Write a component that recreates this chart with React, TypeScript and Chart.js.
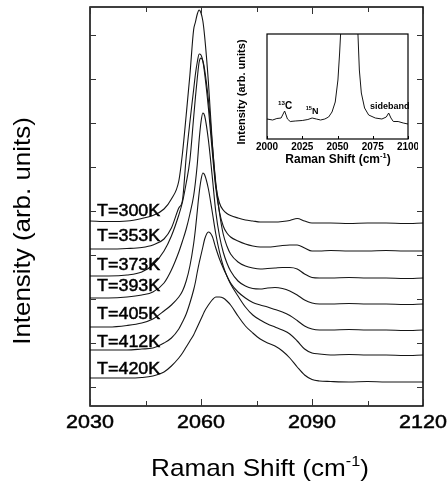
import React, { useEffect, useRef } from "react";
import { Chart, registerables } from "chart.js";

Chart.register(...registerables);

// ---------- data: main panel ----------
const ramanShift = [
  2030, 2035, 2040, 2044, 2047, 2050, 2052, 2054, 2055, 2056,
  2057, 2058, 2058.5, 2059, 2059.5, 2060, 2060.5, 2061, 2062, 2063,
  2064, 2065, 2066, 2067, 2068, 2070, 2072, 2074, 2076, 2078,
  2080, 2082, 2084, 2086, 2088, 2090, 2092, 2095, 2100, 2105,
  2110, 2115, 2120,
];

const temperatureLabels = ["T=300K", "T=353K", "T=373K", "T=393K", "T=405K", "T=412K", "T=420K"];

const i300K = [
  185, 184.5, 185, 187.5, 190.5, 197, 207, 225, 253, 291,
  331, 376, 384, 392, 396, 393, 385, 369, 324, 266,
  221, 203, 196, 192.5, 190.5, 188, 186, 185, 184, 184,
  184, 184.5, 185.5, 187.5, 185, 183, 183, 183, 182.5, 183,
  183, 182.5, 183,
];
const i353K = [
  157, 157, 157.5, 158.5, 161, 167, 178, 198, 206, 249,
  284, 316, 332, 344, 352, 351, 345, 332, 298, 256,
  218, 194, 180, 173, 169, 165, 162, 160, 159, 159,
  159.5, 160.5, 161, 161, 158, 155, 155, 155.5, 155, 155,
  155.5, 155, 155,
];
const i373K = [
  130, 130, 131, 134, 141, 155, 170, 191, 204, 223,
  246, 288, 309, 328, 344, 348, 345, 336, 306, 264,
  223, 193, 172, 160, 152, 144, 140, 138, 137, 137.5,
  138, 138.5, 138.5, 137, 132, 128.5, 128, 128, 128.5, 128,
  128, 127.5, 128,
];
const i393K = [
  108, 108, 109, 111, 114, 123, 136, 154, 165, 177,
  192, 210, 224, 242, 266, 284, 293, 290, 266, 231,
  194, 170, 154, 143, 135, 125, 120, 117.5, 117, 118,
  118.5, 117.5, 115, 111, 106, 103, 102, 102, 102.5, 102,
  102, 101.5, 102,
];
const i405K = [
  79, 79, 80.5, 83, 87, 95, 101, 109, 115, 125,
  140, 162, 177, 195, 213, 226, 233, 231, 217, 195,
  172, 154, 140, 130, 123, 114, 108, 103.5, 101, 99,
  96.5, 94, 90.5, 85.5, 80, 77, 76, 76, 76.5, 76,
  76, 75.5, 76,
];
const i412K = [
  56, 56, 56, 57, 58, 63, 68, 77, 84, 92,
  103, 116, 124, 134, 143, 151, 159, 167, 174, 170,
  158, 147, 138, 130, 122, 110, 99, 91, 86, 82,
  79, 76, 72, 65, 57, 53, 52, 51, 51.5, 51,
  51, 50.5, 51,
];
const i420K = [
  28, 28, 28, 28.5, 30, 34, 40, 48, 53, 59,
  65, 71, 75, 79, 83, 87, 91, 95, 101, 106,
  109, 109, 108, 105, 101, 90, 80, 73, 67, 63,
  60, 55, 48, 39, 31, 26.5, 25, 24.5, 24, 24.5,
  24, 24, 24,
];
const mainSeries = [i300K, i353K, i373K, i393K, i405K, i412K, i420K];
const labelAnchorY = [196, 171, 142, 121, 93, 65, 38];

const mainTickLabels = [2030, 2060, 2090, 2120];
const mainYTicks = [19, 63, 107, 151, 195, 239, 283, 327, 371];

// ---------- data: inset ----------
const insetShift = [
  2000, 2004, 2007, 2010, 2012.5, 2014.5, 2016.5, 2020, 2025, 2029,
  2032, 2035, 2038, 2041, 2043.7, 2046.1, 2048.4, 2050.3, 2051.5, 2052.2,
  2058, 2064.5, 2065.5, 2066.9, 2069.2, 2072.1, 2076.8, 2081.5, 2084.6, 2086.3,
  2087.9, 2089.6, 2093, 2096.6, 2100,
];
const insetIntensity = [
  20, 19, 20.5, 21, 28, 20, 17.5, 18, 18.5, 19.5,
  21, 20, 19, 20, 22, 27, 37, 59, 86, 105,
  400, 105, 69, 46, 31, 24, 21, 20, 22, 26,
  21, 17.5, 17.5, 16, 15,
];
const insetTickLabels = [2000, 2025, 2050, 2075, 2100];

const FONT = "'Liberation Sans', Arial, Helvetica, sans-serif";

type Run = { t: string; sup?: boolean };

function drawRuns(
  ctx: CanvasRenderingContext2D,
  runs: Run[],
  x: number,
  y: number,
  size: number,
  weight: string,
  sx: number,
  rotate = 0,
  heavy = 0
) {
  ctx.save();
  ctx.translate(x, y);
  if (rotate) ctx.rotate(rotate);
  ctx.scale(sx, 1);
  ctx.fillStyle = "#000";
  ctx.strokeStyle = "#000";
  ctx.lineWidth = heavy;
  ctx.textBaseline = "alphabetic";
  ctx.textAlign = "left";
  const widths = runs.map((r) => {
    ctx.font = `${weight} ${r.sup ? size * 0.62 : size}px ${FONT}`;
    return ctx.measureText(r.t).width;
  });
  const total = widths.reduce((a, b) => a + b, 0);
  let cx = -total / 2;
  runs.forEach((r, i) => {
    ctx.font = `${weight} ${r.sup ? size * 0.62 : size}px ${FONT}`;
    const yy = r.sup ? -size * 0.42 : 0;
    ctx.fillText(r.t, cx, yy);
    if (heavy > 0) ctx.strokeText(r.t, cx, yy);
    cx += widths[i];
  });
  ctx.restore();
}

const mainDeco = {
  id: "mainDeco",
  afterDraw(chart: any) {
    const { ctx, chartArea: a, scales } = chart;
    const xs = scales.x;
    const ys = scales.y;
    ctx.save();
    ctx.strokeStyle = "#000";
    ctx.lineWidth = 1.5;
    ctx.strokeRect(a.left, a.top, a.right - a.left, a.bottom - a.top);
    ctx.lineWidth = 1;
    ctx.strokeStyle = "#333";
    ctx.beginPath();
    for (let v = 2030; v <= 2120; v += 15) {
      const px = Math.round(xs.getPixelForValue(v)) + 0.5;
      const len = (v - 2030) % 30 === 0 ? 7 : 5;
      ctx.moveTo(px, a.bottom);
      ctx.lineTo(px, a.bottom - len);
      ctx.moveTo(px, a.top);
      ctx.lineTo(px, a.top + len);
    }
    mainYTicks.forEach((v) => {
      const py = Math.round(ys.getPixelForValue(v)) + 0.5;
      ctx.moveTo(a.left, py);
      ctx.lineTo(a.left + 6, py);
      ctx.moveTo(a.right, py);
      ctx.lineTo(a.right - 6, py);
    });
    ctx.stroke();
    ctx.restore();

    mainTickLabels.forEach((v) => {
      drawRuns(ctx, [{ t: String(v) }], xs.getPixelForValue(v), 428, 19, "normal", 1.13, 0, 0.5);
    });
    temperatureLabels.forEach((t, i) => {
      ctx.save();
      ctx.translate(xs.getPixelForValue(2031.9), ys.getPixelForValue(labelAnchorY[i]) + 5.7);
      ctx.scale(1.12, 1);
      ctx.font = `normal 16px ${FONT}`;
      ctx.fillStyle = "#000";
      ctx.strokeStyle = "#000";
      ctx.lineWidth = 0.45;
      ctx.textAlign = "left";
      ctx.textBaseline = "alphabetic";
      ctx.fillText(t, 0, 0);
      ctx.strokeText(t, 0, 0);
      ctx.restore();
    });
    drawRuns(ctx, [{ t: "Raman Shift (cm" }, { t: "-1", sup: true }, { t: ")" }], 260, 476, 24, "normal", 1.09);
    drawRuns(ctx, [{ t: "Intensity (arb. units)" }], 30, 231, 24, "normal", 1.08, -Math.PI / 2);
  },
};

const insetDeco = {
  id: "insetDeco",
  afterDraw(chart: any) {
    const { ctx, chartArea: a, scales } = chart;
    const xs = scales.x;
    const ys = scales.y;
    ctx.save();
    ctx.strokeStyle = "#000";
    ctx.lineWidth = 1.2;
    ctx.strokeRect(a.left, a.top, a.right - a.left, a.bottom - a.top);
    ctx.lineWidth = 1;
    ctx.beginPath();
    insetTickLabels.forEach((v) => {
      const px = Math.round(xs.getPixelForValue(v)) + 0.5;
      ctx.moveTo(px, a.bottom);
      ctx.lineTo(px, a.bottom - 3);
    });
    ctx.stroke();
    ctx.restore();
    insetTickLabels.forEach((v) => {
      drawRuns(ctx, [{ t: String(v) }], xs.getPixelForValue(v), 124, 10, "bold", 1.0);
    });
    drawRuns(ctx, [{ t: "Raman Shift (cm" }, { t: "-1", sup: true }, { t: ")" }], 116, 137, 12, "bold", 1.0);
    drawRuns(ctx, [{ t: "Intensity (arb. units)" }], 23, 66, 11, "bold", 1.0, -Math.PI / 2);
    drawRuns(ctx, [{ t: "13", sup: true }, { t: "C" }], xs.getPixelForValue(2012.8), ys.getPixelForValue(30), 10, "bold", 1.0);
    drawRuns(ctx, [{ t: "15", sup: true }, { t: "N" }], xs.getPixelForValue(2032), ys.getPixelForValue(25), 9, "bold", 1.0);
    drawRuns(ctx, [{ t: "sideband" }], xs.getPixelForValue(2087), ys.getPixelForValue(30), 9, "bold", 1.0);
  },
};

export default function App() {
  const mainRef = useRef<HTMLCanvasElement>(null);
  const insetRef = useRef<HTMLCanvasElement>(null);

  useEffect(() => {
    const main = new Chart(mainRef.current!, {
      type: "line",
      data: {
        datasets: mainSeries.map((s, k) => ({
          label: temperatureLabels[k],
          data: ramanShift.map((x, i) => ({ x, y: s[i] })),
          borderColor: "#151515",
          borderWidth: 1.1,
          pointRadius: 0,
          fill: false,
          cubicInterpolationMode: "monotone" as const,
        })),
      },
      options: {
        animation: false,
        responsive: false,
        maintainAspectRatio: false,
        events: [],
        layout: { padding: { left: 0, top: 7, right: 25, bottom: 0 } },
        plugins: { legend: { display: false }, tooltip: { enabled: false } },
        scales: {
          x: {
            type: "linear",
            min: 2030,
            max: 2120,
            grid: { display: false, drawTicks: false },
            border: { display: false },
            ticks: { display: false },
            afterFit: (s: any) => {
              s.height = 77;
            },
          },
          y: {
            type: "linear",
            min: 0,
            max: 399,
            grid: { display: false, drawTicks: false },
            border: { display: false },
            ticks: { display: false },
            afterFit: (s: any) => {
              s.width = 90;
            },
          },
        },
      },
      plugins: [mainDeco],
    });

    const inset = new Chart(insetRef.current!, {
      type: "line",
      data: {
        datasets: [
          {
            label: "300K",
            data: insetShift.map((x, i) => ({ x, y: insetIntensity[i] })),
            borderColor: "#151515",
            borderWidth: 1,
            pointRadius: 0,
            fill: false,
            tension: 0,
          },
        ],
      },
      options: {
        animation: false,
        responsive: false,
        maintainAspectRatio: false,
        events: [],
        layout: { padding: { left: 0, top: 8, right: 10, bottom: 0 } },
        plugins: { legend: { display: false }, tooltip: { enabled: false } },
        scales: {
          x: {
            type: "linear",
            min: 2000,
            max: 2100,
            grid: { display: false, drawTicks: false },
            border: { display: false },
            ticks: { display: false },
            afterFit: (s: any) => {
              s.height = 31;
            },
          },
          y: {
            type: "linear",
            min: 0,
            max: 105,
            grid: { display: false, drawTicks: false },
            border: { display: false },
            ticks: { display: false },
            afterFit: (s: any) => {
              s.width = 45;
            },
          },
        },
      },
      plugins: [insetDeco],
    });

    return () => {
      main.destroy();
      inset.destroy();
    };
  }, []);

  return (
    <div style={{ position: "fixed", left: 0, top: 0, width: 448, height: 483, background: "#fff" }}>
      <canvas ref={mainRef} width={448} height={483} style={{ position: "absolute", left: 0, top: 0, width: 448, height: 483 }} />
      <canvas ref={insetRef} width={196} height={144} style={{ position: "absolute", left: 222, top: 26, width: 196, height: 144 }} />
    </div>
  );
}
